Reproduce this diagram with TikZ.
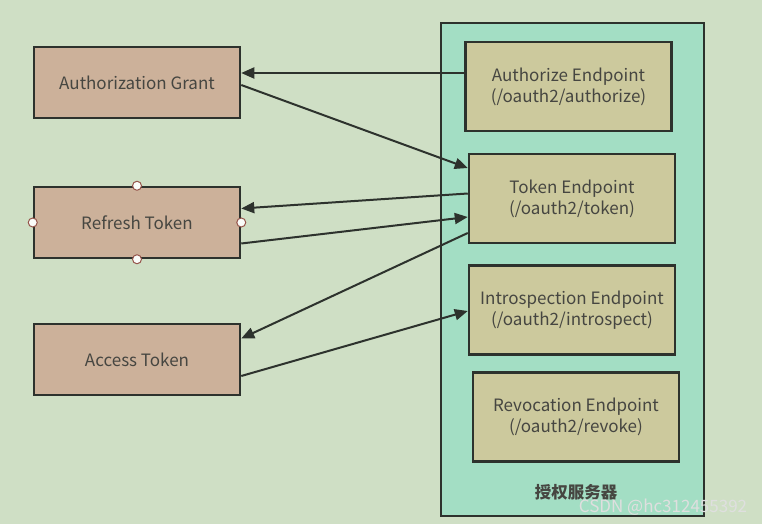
\documentclass[tikz,border=0pt]{standalone}
\usepackage{fontspec}
\setmainfont{Noto Sans CJK SC}
\usetikzlibrary{arrows.meta}

\definecolor{bgcol}{RGB}{207,223,197}
\definecolor{clientcol}{RGB}{204,177,154}
\definecolor{servercol}{RGB}{163,222,196}
\definecolor{endcol}{RGB}{204,201,157}
\definecolor{linecol}{RGB}{45,50,45}
\definecolor{txtcol}{RGB}{70,70,65}
\definecolor{handlecol}{RGB}{150,85,75}

\begin{document}
\begin{tikzpicture}[x=1pt,y=-1pt,
    client/.style={draw=linecol,line width=2.5pt,fill=clientcol,minimum width=206pt,
        minimum height=71pt,inner sep=0pt,text=txtcol,font=\fontsize{17}{21}\selectfont},
    endpt/.style={client,fill=endcol,minimum height=89pt,align=center},
    flow/.style={-{Triangle[length=13pt,width=11pt]},line width=2pt,draw=linecol},
    handle/.style={circle,draw=handlecol,fill=white!90!bgcol,line width=1pt,
        inner sep=0pt,minimum size=9pt}]

\useasboundingbox[fill=bgcol] (0,0) rectangle (762,524);

% authorization server
\node[draw=linecol,line width=2.5pt,fill=servercol,minimum width=263pt,
    minimum height=493pt,inner sep=0pt] (server) at (572.5,269.5) {};
\node[text=txtcol,font=\fontsize{16.5}{19}\selectfont\bfseries] (title) at (576,492) {授权服务器};

\node[endpt] (ae) at (568.5,86.5) {Authorize Endpoint\\(/oauth2/authorize)};
\node[endpt] (te) at (572,198.5) {Token Endpoint\\(/oauth2/token)};
\node[endpt] (ie) at (572,310) {Introspection Endpoint\\(/oauth2/introspect)};
\node[endpt] (re) at (576,417) {Revocation Endpoint\\(/oauth2/revoke)};

% clients
\node[client] (ag) at (137,82.5) {Authorization Grant};
\node[client] (rt) at (137,222.5) {Refresh Token};
\node[client] (at) at (137,359.5) {Access Token};

\foreach \a in {north,south,east,west}
    \node[handle] (rt-\a) at (rt.\a) {};

\draw[flow] ([yshift=13.5pt]ae.west) -- ([yshift=9.5pt]ag.east);
\draw[flow] ([yshift=-2.5pt]ag.east) -- ([yshift=30.5pt]te.west);
\draw[flow] ([yshift=5pt]te.west) -- ([yshift=14pt]rt.east);
\draw[flow] ([yshift=-21pt]rt.east) -- ([yshift=-18.5pt]te.west);
\draw[flow] ([yshift=-34.5pt]te.west) -- ([yshift=21pt]at.east);
\draw[flow] ([yshift=-16.5pt]at.east) -- ([yshift=-1pt]ie.west);

\node[text=white!75!gray,font=\fontsize{17}{19}\selectfont] (mark) at (663,507) {CSDN @hc312455392};

\end{tikzpicture}
\end{document}
